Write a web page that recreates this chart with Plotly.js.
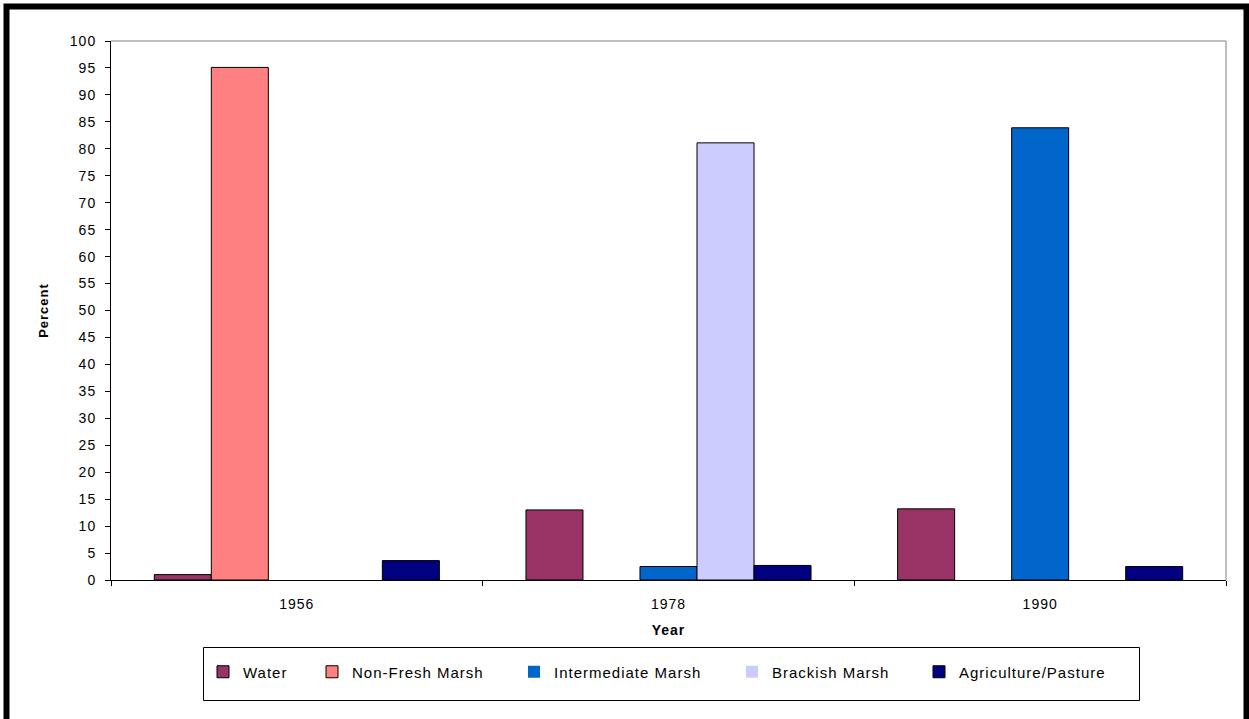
<!DOCTYPE html>
<html>
<head>
<meta charset="utf-8">
<script src="https://cdn.plot.ly/plotly-3.0.1.min.js"></script>
<style>
html,body{margin:0;padding:0;background:#fff;}
#chart{width:1249px;height:719px;}
svg text{letter-spacing:1px;}
</style>
</head>
<body>
<div id="chart"></div>
<script>
const years = ['1956', '1978', '1990'];
const seriesNames = ['Water', 'Non-Fresh Marsh', 'Intermediate Marsh', 'Brackish Marsh', 'Agriculture/Pasture'];
const water = [1.0, 13.0, 13.2];
const nonFreshMarsh = [95.1, 0, 0];
const intermediateMarsh = [0, 2.5, 83.9];
const brackishMarsh = [0, 81.1, 0];
const agriculturePasture = [3.6, 2.7, 2.5];
const yTicks = [0,5,10,15,20,25,30,35,40,45,50,55,60,65,70,75,80,85,90,95,100];

const colors = ['#993366', '#FF8080', '#0066CC', '#CCCCFF', '#000080'];
const values = [water, nonFreshMarsh, intermediateMarsh, brackishMarsh, agriculturePasture];
const FONT = 'Arial, "Liberation Sans", sans-serif';

// plot area: x 111..1226, y 41..580
const L = 111, R = 1226, T = 41, B = 580, W = 1249, H = 719;
const pw = R - L, ph = B - T;
const px = v => (v - L) / pw;
const py = v => (B - v) / ph;

// legend entry text start positions (pixels)
const legendTextX = [243, 352, 554, 772, 959];
const legendIds = ['legend', 'legend2', 'legend3', 'legend4', 'legend5'];

const traces = seriesNames.map((n, i) => ({
  type: 'bar',
  name: n,
  x: years,
  y: values[i],
  legend: legendIds[i],
  marker: {color: colors[i], line: {color: '#000000', width: values[i].map(v => v === 0 ? 0 : 1)}},
  hoverinfo: 'skip'
}));

const layout = {
  width: W, height: H,
  margin: {l: L, r: W - R, t: T, b: H - B, pad: 0},
  paper_bgcolor: '#ffffff',
  plot_bgcolor: '#ffffff',
  font: {family: FONT, size: 14, color: '#000000'},
  barmode: 'group',
  bargap: 0.233,
  bargroupgap: 0,
  showlegend: true,
  xaxis: {
    type: 'category',
    showgrid: false,
    showline: true, linecolor: '#000000', linewidth: 1,
    ticks: 'outside', ticklen: 5, tickcolor: '#000000', tickson: 'boundaries',
    ticklabelstandoff: 11,
    tickfont: {family: FONT, size: 14, color: '#000000'},
    title: {text: '<b>Year</b>', font: {family: FONT, size: 14, color: '#000000'}, standoff: 14},
    zeroline: false
  },
  yaxis: {
    range: [0, 100],
    tickvals: yTicks,
    ticktext: yTicks.map(String),
    showgrid: false,
    showline: true, linecolor: '#000000', linewidth: 1,
    ticks: 'outside', ticklen: 5, tickcolor: '#000000',
    ticklabelstandoff: 6,
    tickfont: {family: FONT, size: 14, color: '#000000'},
    title: {text: '<b>Percent</b>', font: {family: FONT, size: 13, color: '#000000'}, standoff: 18},
    zeroline: false
  },
  shapes: [
    {type: 'path', xref: 'paper', yref: 'paper',
     path: `M ${px(L)},${py(T)} L ${px(R)},${py(T)} L ${px(R)},${py(B)}`,
     line: {color: '#808080', width: 1}, layer: 'below'},
    {type: 'rect', xref: 'paper', yref: 'paper',
     x0: px(203.5), x1: px(1139.5), y0: py(647.5), y1: py(700.5),
     line: {color: '#000000', width: 1}, fillcolor: 'rgba(0,0,0,0)'},
    {type: 'path', xref: 'paper', yref: 'paper',
     path: `M ${px(6.5)},${py(725)} L ${px(6.5)},${py(6.5)} L ${px(1246.5)},${py(6.5)} L ${px(1246.5)},${py(725)}`,
     line: {color: '#000000', width: 6}}
  ]
};

legendIds.forEach((id, i) => {
  layout[id] = {
    orientation: 'h',
    x: px(legendTextX[i] - 40), xanchor: 'left',
    y: py(672), yanchor: 'middle',
    bgcolor: 'rgba(0,0,0,0)',
    borderwidth: 0,
    font: {family: FONT, size: 15, color: '#000000'},
    itemwidth: 30
  };
});

Plotly.newPlot('chart', traces, layout, {displayModeBar: false, staticPlot: true});
</script>
</body>
</html>
